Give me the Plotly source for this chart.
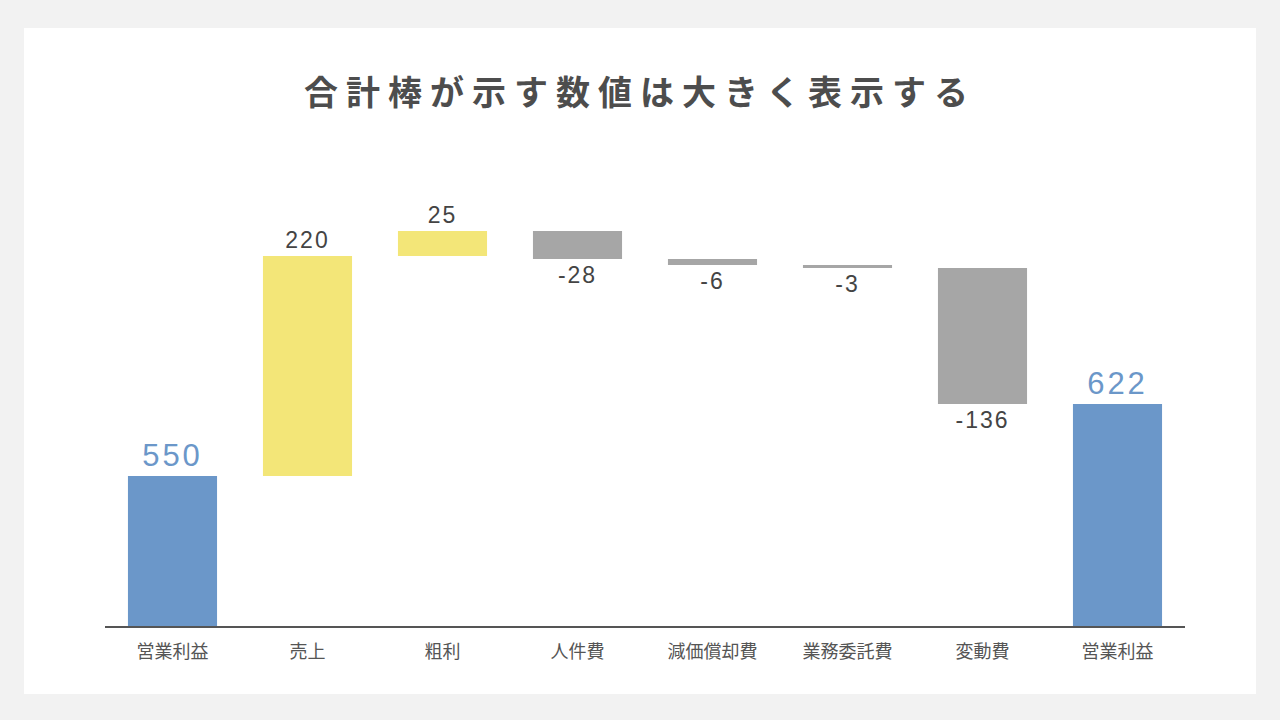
import plotly.graph_objects as go

title = "合計棒が示す数値は大きく表示する"
categories = ["営業利益", "売上", "粗利", "人件費", "減価償却費", "業務委託費", "変動費", "営業利益"]
measures = ["absolute", "relative", "relative", "relative", "relative", "relative", "relative", "total"]
values = [550, 220, 25, -28, -6, -3, -136, 622]
labels = ["550", "220", "25", "-28", "-6", "-3", "-136", "622"]

BLUE = "#6b97c9"
YELLOW = "#f3e678"
GRAY = "#a6a6a6"
TXT = "#444444"

xs = list(range(len(categories)))
is_total = [m in ("absolute", "total") for m in measures]
label_colors = [BLUE if t else TXT for t in is_total]
label_sizes = [31 if t else 23 for t in is_total]
label_text = [
    f'<span style="letter-spacing:{3 if t else 2}px">{s}</span>'
    for s, t in zip(labels, is_total)
]

FONT = "Noto Sans CJK JP"
NUMFONT = "Liberation Sans"

fig = go.Figure(go.Waterfall(
    x=xs,
    y=[v if m != "total" else 0 for v, m in zip(values, measures)],
    measure=measures,
    text=label_text,
    textposition="outside",
    textfont=dict(family=NUMFONT, size=label_sizes, color=label_colors),
    width=0.66,
    increasing=dict(marker=dict(color=YELLOW)),
    decreasing=dict(marker=dict(color=GRAY)),
    totals=dict(marker=dict(color=BLUE)),
    connector=dict(visible=False),
    cliponaxis=False,
    hoverinfo="skip",
))

L, R, T, B = 105, 95, 160, 94
W, H = 1280, 720
pw, ph = W - L - R, H - T - B

fig.update_layout(
    width=W, height=H,
    margin=dict(l=L, r=R, t=T, b=B),
    paper_bgcolor="#f2f2f2",
    plot_bgcolor="rgba(0,0,0,0)",
    showlegend=False,
    font=dict(family=FONT, color=TXT),
    title=dict(
        text=f'<span style="letter-spacing:8px">{title}</span>',
        x=0.5, xanchor="center",
        y=1 - 93 / H, yanchor="middle", yref="container",
        font=dict(family=FONT, size=34, color="#4d4d4d", weight="bold"),
    ),
    xaxis=dict(
        tickmode="array", tickvals=xs, ticktext=categories,
        range=[-0.5, len(categories) - 0.5],
        showgrid=False, zeroline=False,
        showline=True, linecolor="#555555", linewidth=1.5,
        ticks="outside", ticklen=9, tickcolor="rgba(0,0,0,0)",
        tickfont=dict(family=FONT, size=18, color="#555555"),
        fixedrange=True,
    ),
    yaxis=dict(
        range=[400, 400 + ph], visible=False, showgrid=False, zeroline=False,
        fixedrange=True,
    ),
    shapes=[dict(
        type="rect", xref="paper", yref="paper", layer="below",
        x0=(24 - L) / pw, x1=(1256 - L) / pw,
        y0=(H - B - 694) / ph, y1=(H - B - 28) / ph,
        fillcolor="white", line=dict(width=0),
    )],
)

fig.write_html("out.html")
